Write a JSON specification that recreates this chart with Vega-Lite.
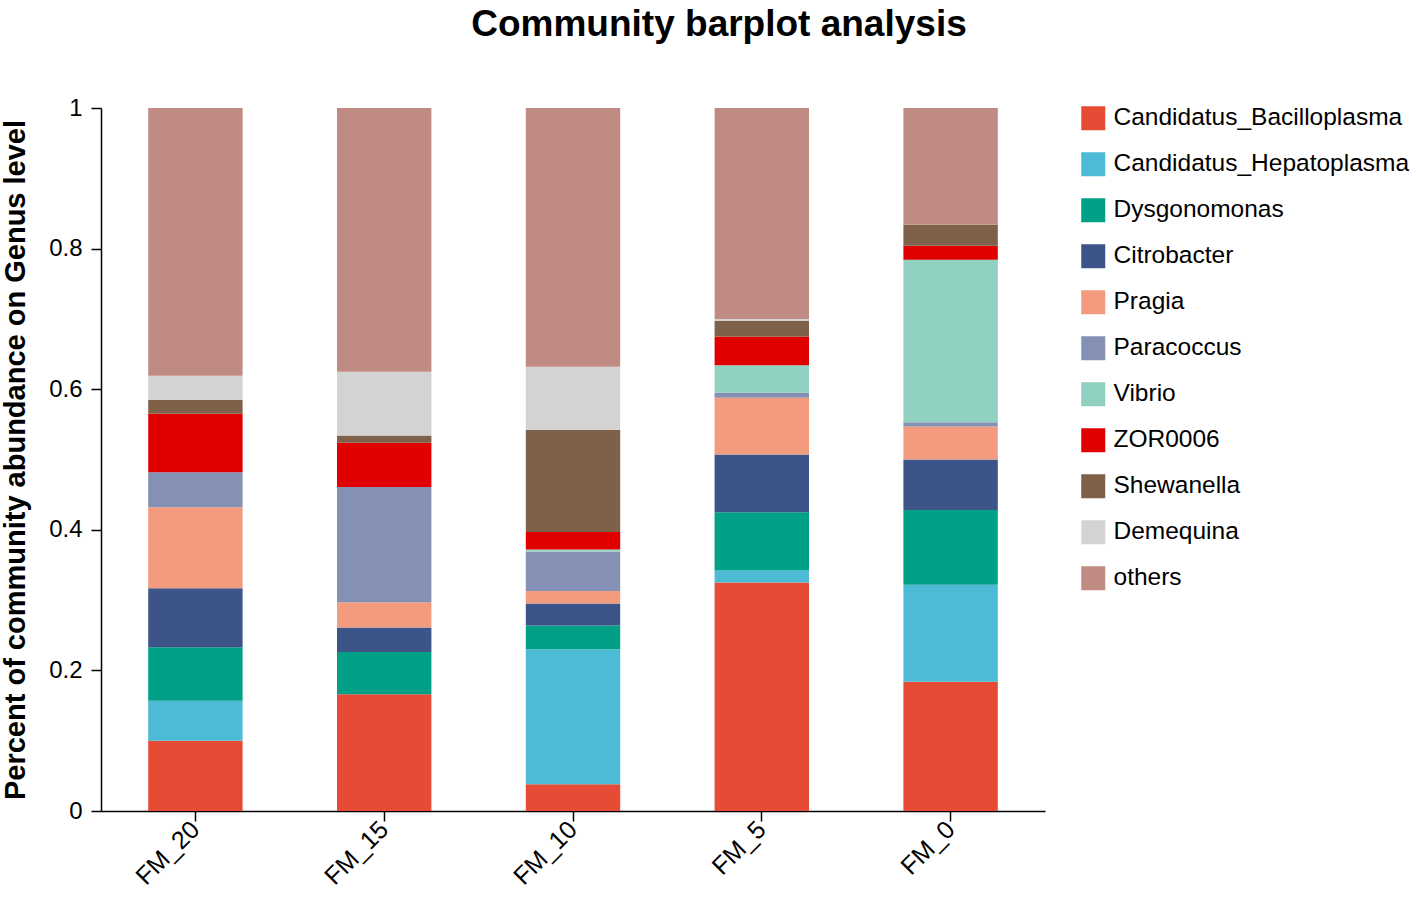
{
  "$schema": "https://vega.github.io/schema/vega-lite/v6.json",
  "description": "Stacked bar chart of community abundance on genus level per sample.",
  "width": 944,
  "height": 703,
  "autosize": {"type": "none"},
  "padding": {"left": 101, "top": 108, "right": 372, "bottom": 90},
  "title": {
    "text": "Community barplot analysis",
    "anchor": "middle",
    "dx": 146,
    "offset": 52,
    "fontSize": 37,
    "fontWeight": "bold",
    "font": "Liberation Sans",
    "color": "#000000"
  },
  "data": {
    "values": [
      {"sample": "FM_20", "genus": "Candidatus_Bacilloplasma", "abundance": 0.100},
      {"sample": "FM_20", "genus": "Candidatus_Hepatoplasma", "abundance": 0.057},
      {"sample": "FM_20", "genus": "Dysgonomonas", "abundance": 0.076},
      {"sample": "FM_20", "genus": "Citrobacter", "abundance": 0.084},
      {"sample": "FM_20", "genus": "Pragia", "abundance": 0.115},
      {"sample": "FM_20", "genus": "Paracoccus", "abundance": 0.050},
      {"sample": "FM_20", "genus": "ZOR0006", "abundance": 0.083},
      {"sample": "FM_20", "genus": "Shewanella", "abundance": 0.020},
      {"sample": "FM_20", "genus": "Demequina", "abundance": 0.034},
      {"sample": "FM_20", "genus": "others", "abundance": 0.381},

      {"sample": "FM_15", "genus": "Candidatus_Bacilloplasma", "abundance": 0.166},
      {"sample": "FM_15", "genus": "Dysgonomonas", "abundance": 0.060},
      {"sample": "FM_15", "genus": "Citrobacter", "abundance": 0.035},
      {"sample": "FM_15", "genus": "Pragia", "abundance": 0.036},
      {"sample": "FM_15", "genus": "Paracoccus", "abundance": 0.164},
      {"sample": "FM_15", "genus": "ZOR0006", "abundance": 0.063},
      {"sample": "FM_15", "genus": "Shewanella", "abundance": 0.010},
      {"sample": "FM_15", "genus": "Demequina", "abundance": 0.091},
      {"sample": "FM_15", "genus": "others", "abundance": 0.375},

      {"sample": "FM_10", "genus": "Candidatus_Bacilloplasma", "abundance": 0.038},
      {"sample": "FM_10", "genus": "Candidatus_Hepatoplasma", "abundance": 0.192},
      {"sample": "FM_10", "genus": "Dysgonomonas", "abundance": 0.034},
      {"sample": "FM_10", "genus": "Citrobacter", "abundance": 0.031},
      {"sample": "FM_10", "genus": "Pragia", "abundance": 0.018},
      {"sample": "FM_10", "genus": "Paracoccus", "abundance": 0.056},
      {"sample": "FM_10", "genus": "Vibrio", "abundance": 0.003},
      {"sample": "FM_10", "genus": "ZOR0006", "abundance": 0.025},
      {"sample": "FM_10", "genus": "Shewanella", "abundance": 0.145},
      {"sample": "FM_10", "genus": "Demequina", "abundance": 0.090},
      {"sample": "FM_10", "genus": "others", "abundance": 0.368},

      {"sample": "FM_5", "genus": "Candidatus_Bacilloplasma", "abundance": 0.325},
      {"sample": "FM_5", "genus": "Candidatus_Hepatoplasma", "abundance": 0.017},
      {"sample": "FM_5", "genus": "Dysgonomonas", "abundance": 0.083},
      {"sample": "FM_5", "genus": "Citrobacter", "abundance": 0.082},
      {"sample": "FM_5", "genus": "Pragia", "abundance": 0.081},
      {"sample": "FM_5", "genus": "Paracoccus", "abundance": 0.007},
      {"sample": "FM_5", "genus": "Vibrio", "abundance": 0.039},
      {"sample": "FM_5", "genus": "ZOR0006", "abundance": 0.041},
      {"sample": "FM_5", "genus": "Shewanella", "abundance": 0.022},
      {"sample": "FM_5", "genus": "Demequina", "abundance": 0.003},
      {"sample": "FM_5", "genus": "others", "abundance": 0.300},

      {"sample": "FM_0", "genus": "Candidatus_Bacilloplasma", "abundance": 0.184},
      {"sample": "FM_0", "genus": "Candidatus_Hepatoplasma", "abundance": 0.138},
      {"sample": "FM_0", "genus": "Dysgonomonas", "abundance": 0.106},
      {"sample": "FM_0", "genus": "Citrobacter", "abundance": 0.072},
      {"sample": "FM_0", "genus": "Pragia", "abundance": 0.047},
      {"sample": "FM_0", "genus": "Paracoccus", "abundance": 0.006},
      {"sample": "FM_0", "genus": "Vibrio", "abundance": 0.231},
      {"sample": "FM_0", "genus": "ZOR0006", "abundance": 0.020},
      {"sample": "FM_0", "genus": "Shewanella", "abundance": 0.030},
      {"sample": "FM_0", "genus": "others", "abundance": 0.166}
    ]
  },
  "transform": [
    {
      "calculate": "indexof(['Candidatus_Bacilloplasma', 'Candidatus_Hepatoplasma', 'Dysgonomonas', 'Citrobacter', 'Pragia', 'Paracoccus', 'Vibrio', 'ZOR0006', 'Shewanella', 'Demequina', 'others'], datum.genus)",
      "as": "stack_order"
    }
  ],
  "mark": {"type": "bar"},
  "encoding": {
    "x": {
      "field": "sample",
      "type": "nominal",
      "sort": ["FM_20", "FM_15", "FM_10", "FM_5", "FM_0"],
      "scale": {"paddingInner": 0.5, "paddingOuter": 0.25},
      "axis": {
        "title": null,
        "labelAngle": -45,
        "labelAlign": "right",
        "labelBaseline": "middle",
        "labelFontSize": 25,
        "labelPadding": 4,
        "tickSize": 10
      }
    },
    "y": {
      "field": "abundance",
      "type": "quantitative",
      "stack": "zero",
      "scale": {"domain": [0, 1], "nice": false},
      "axis": {
        "title": "Percent of community abundance on Genus level",
        "titleFontSize": 29,
        "titleFontWeight": "bold",
        "titlePadding": 18,
        "values": [0, 0.2, 0.4, 0.6, 0.8, 1],
        "format": ".1~f",
        "labelFontSize": 24,
        "labelPadding": 9,
        "tickSize": 10,
        "grid": false
      }
    },
    "order": {"field": "stack_order", "type": "quantitative", "sort": "ascending"},
    "color": {
      "field": "genus",
      "type": "nominal",
      "sort": ["Candidatus_Bacilloplasma", "Candidatus_Hepatoplasma", "Dysgonomonas", "Citrobacter", "Pragia", "Paracoccus", "Vibrio", "ZOR0006", "Shewanella", "Demequina", "others"],
      "scale": {
        "domain": ["Candidatus_Bacilloplasma", "Candidatus_Hepatoplasma", "Dysgonomonas", "Citrobacter", "Pragia", "Paracoccus", "Vibrio", "ZOR0006", "Shewanella", "Demequina", "others"],
        "range": ["#E64B35", "#4DBBD5", "#00A087", "#3C5488", "#F39B7F", "#8491B4", "#91D1C2", "#E00000", "#7E6148", "#D3D3D3", "#C08B82"]
      },
      "legend": {
        "title": null,
        "orient": "none",
        "legendX": 980,
        "legendY": -2,
        "symbolType": "square",
        "symbolSize": 576,
        "symbolStrokeWidth": 0,
        "labelFontSize": 24.5,
        "labelOffset": 8,
        "rowPadding": 20,
        "labelLimit": 400
      }
    }
  },
  "config": {
    "font": "Liberation Sans",
    "view": {"stroke": null},
    "axis": {
      "domainColor": "#000000",
      "domainWidth": 1.5,
      "tickColor": "#000000",
      "tickWidth": 1.5,
      "labelColor": "#000000",
      "titleColor": "#000000",
      "labelFont": "Liberation Sans",
      "titleFont": "Liberation Sans"
    },
    "legend": {"labelColor": "#000000", "labelFont": "Liberation Sans", "padding": 0}
  }
}
